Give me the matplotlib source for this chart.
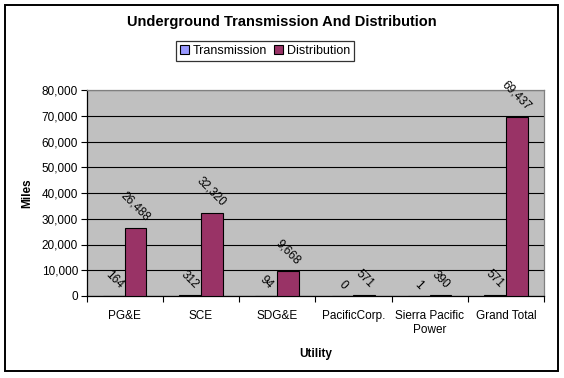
import matplotlib
matplotlib.use("Agg")
import matplotlib.pyplot as plt
from matplotlib.patches import Patch, Rectangle
from matplotlib.ticker import FuncFormatter
import numpy as np

plt.rcParams['font.family'] = ['Liberation Sans', 'DejaVu Sans']

categories = ["PG&E", "SCE", "SDG&E", "PacificCorp.", "Sierra Pacific\nPower", "Grand Total"]
transmission = [164, 312, 94, 0, 1, 571]
distribution = [26488, 32320, 9668, 571, 390, 69437]
yticks = [0, 10000, 20000, 30000, 40000, 50000, 60000, 70000, 80000]

W, H = 564, 378
fig = plt.figure(figsize=(W / 100, H / 100), dpi=100)
fig.patch.set_facecolor('white')

# outer chart frame
fig.patches.append(Rectangle((5 / W, 1 - 371 / H), 553 / W, 366 / H,
                             transform=fig.transFigure, fill=False,
                             edgecolor='black', linewidth=1.4))

left, right, top, bottom = 86.5, 544, 90, 296
ax = fig.add_axes([left / W, 1 - bottom / H, (right - left) / W, (bottom - top) / H])
ax.set_facecolor('#C0C0C0')

x = np.arange(len(categories))
w = 1 / 3.5
ax.bar(x - w / 2, transmission, w, color='#9999FF', edgecolor='black', linewidth=0.8, zorder=3)
ax.bar(x + w / 2, distribution, w, color='#993366', edgecolor='black', linewidth=0.8, zorder=3)

for xi, v in zip(x - w / 2, transmission):
    ax.annotate(f"{v:,}", (xi, v), xytext=(0, 3), textcoords='offset points',
                rotation=-45, ha='center', va='bottom', fontsize=8.5, zorder=4)
for xi, v in zip(x + w / 2, distribution):
    ax.annotate(f"{v:,}", (xi, v), xytext=(0, 3), textcoords='offset points',
                rotation=-45, ha='center', va='bottom', fontsize=8.5, zorder=4,
                annotation_clip=False)

ax.set_xlim(-0.5, len(categories) - 0.5)
ax.set_ylim(0, 80000)
ax.set_yticks(yticks)
ax.yaxis.set_major_formatter(FuncFormatter(lambda v, p: f"{int(v):,}"))
ax.grid(axis='y', color='black', linewidth=0.8, zorder=1)
ax.set_axisbelow(True)

ax.set_xticks(np.arange(-0.5, len(categories), 1.0), minor=False)
ax.set_xticklabels([])
ax.set_xticks(x, minor=True)
ax.set_xticklabels(categories, minor=True, fontsize=8.5)
ax.tick_params(axis='x', which='minor', length=0, pad=10)
ax.tick_params(axis='x', which='major', length=4, width=0.8, direction='out')
ax.tick_params(axis='y', length=4, width=0.8, direction='out', labelsize=8.5, pad=2)

for s in ['left', 'bottom']:
    ax.spines[s].set_color('black')
    ax.spines[s].set_linewidth(0.9)
for s in ['top', 'right']:
    ax.spines[s].set_color('#808080')
    ax.spines[s].set_linewidth(0.9)

ax.set_xlabel("Utility", fontsize=8.5, fontweight='bold', labelpad=9)
ax.set_ylabel("Miles", fontsize=8.5, fontweight='bold', labelpad=6)

fig.text(282 / W, 1 - 22 / H, "Underground Transmission And Distribution",
         ha='center', va='center', fontsize=10.5, fontweight='bold')

handles = [Patch(facecolor='#9999FF', edgecolor='black', linewidth=0.8, label='Transmission'),
           Patch(facecolor='#993366', edgecolor='black', linewidth=0.8, label='Distribution')]
leg = fig.legend(handles=handles, loc='center', bbox_to_anchor=(265 / W, 1 - 51 / H),
                 ncol=2, fontsize=9, frameon=True, fancybox=False, shadow=False,
                 handlelength=0.75, handleheight=0.75, handletextpad=0.3, columnspacing=0.5,
                 borderpad=0.3, borderaxespad=0)
leg.get_frame().set_edgecolor('black')
leg.get_frame().set_linewidth(0.9)

fig.savefig("out.png", dpi=100)
